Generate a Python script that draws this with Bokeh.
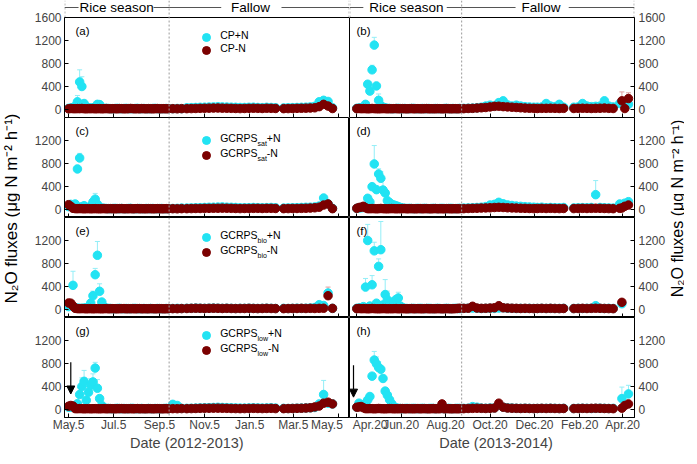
import math
import pandas as pd
from bokeh.plotting import figure
from bokeh.models import (Range1d, FixedTicker, Span, Label, Legend, LegendItem, LinearAxis,
                          ColumnDataSource, Whisker, TeeHead, Arrow, NormalHead)
from bokeh.layouts import row, column
from bokeh.embed import file_html
from bokeh.resources import INLINE

NaN = float("nan")

# ---------------- dates / ticks ----------------
start1, start2 = "2012-05-05", "2013-04-20"
rice_end1, rice_end2 = "2012-09-18", "2013-09-11"
tick_dates1 = ["2012-05-05", "2012-07-05", "2012-09-05", "2012-11-05", "2013-01-05", "2013-03-05", "2013-05-05"]
tick_labels1 = ["May.5", "Jul.5", "Sep.5", "Nov.5", "Jan.5", "Mar.5", "May.5"]
tick_dates2 = ["2013-04-20", "2013-06-20", "2013-08-20", "2013-10-20", "2013-12-20", "2014-02-20", "2014-04-20"]
tick_labels2 = ["Apr.20", "Jun.20", "Aug.20", "Oct.20", "Dec.20", "Feb.20", "Apr.20"]
y_ticks_top = [0, 400, 800, 1200, 1600]
y_ticks = [0, 400, 800, 1200]
fert_day1, fert_day2 = 3, -4.5

# sampling days (days after first tick date)
days1 = [0, 3, 6, 9, 12, 15, 18, 21, 24, 27, 30, 33, 36, 39, 42, 45, 48, 51, 54, 57, 60, 63, 66, 69, 72, 75,
         78, 81, 84, 87, 90, 93, 96, 99, 102, 105, 108, 111, 114, 117, 120, 123, 126, 129, 132, 135,
         141, 147, 153, 160, 166, 172, 178, 184, 190, 196, 202, 208, 214, 220, 226, 232,
         238, 244, 250, 256, 262, 268, 274, 280,
         291, 297, 303, 309, 315, 321, 327, 333, 339, 345, 351, 357]
days2 = [0, 3, 6, 9, 12, 15, 18, 21, 24, 27, 30, 33, 36, 39, 42, 45, 48, 51, 54, 57, 60, 63, 66, 69, 72, 75,
         78, 81, 84, 87, 90, 93, 96, 99, 102, 105, 108, 111, 114, 117, 120, 123, 126, 129, 132, 135, 138, 141,
         147, 153, 159, 165, 171, 177, 183, 189, 195, 201, 207, 213, 219, 225, 231, 237, 243,
         248, 254, 260, 266, 272, 278, 284,
         298, 304, 310, 316, 322, 328, 334, 340, 346, 352, 361, 364, 368, 373]

# ---------------- 2012-2013 ----------------
a_plus = [20, 25, 30, 60, 134, 480, 400, 104, 45, 30, 25, 30, 40, 90, 85, 30, 20, 20, 18, 15,
          15, 18, 20, 15, 15, 18, 20, 15, 15, 15, 18, 20, 15, 15, 18, 15, 15, 15, 18, 20,
          15, 15, 15, 15, 18, 15] + \
         [15, 18, 15, 30, 32, 35, 38, 40, 42, 45, 48, 45, 42, 40, 38, 35,
          35, 38, 40, 35, 32, 38, 35, 30, 28, 30, 32, 35, 38, 40, 45, 55, 134, 160, 140, 30]
a_minus = [12, 18, 15, 14, 16, 15, 18, 14, 12, 15, 14, 16, 12, 14, 15, 12, 14, 16, 13, 12,
           15, 14, 12, 16, 15, 12, 13, 14, 18, 15, 12, 14, 12, 16, 14, 12, 15, 13, 12, 14,
           16, 12, 13, 15, 12, 14] + \
          [14, 12, 15, 15, 16, 18, 20, 22, 24, 25, 26, 24, 22, 20, 18, 16,
           18, 20, 22, 20, 18, 22, 20, 18, 15, 16, 18, 20, 22, 24, 26, 30, 50, 90, 60, 17]
c_plus = [50, 90, 30, 96, 705, 896, 50, 66, 40, 30, 60, 130, 180, 90, 40, 25, 20, 18, 15, 15,
          18, 20, 15, 15, 18, 15, 15, 18, 20, 15, 15, 15, 18, 15, 15, 18, 15, 15, 18, 15,
          15, 15, 18, 15, 15, 15] + \
         [18, 20, 25, 25, 28, 30, 32, 35, 38, 40, 42, 45, 40, 38, 35, 30,
          30, 32, 35, 32, 30, 32, 35, 30, 25, 28, 30, 32, 35, 38, 40, 45, 60, 200, 100, 20]
c_minus = [84, 56, 20, 15, 14, 16, 15, 12, 14, 15, 12, 14, 15, 13, 12, 14, 16, 12, 14, 15,
           13, 12, 14, 15, 16, 12, 14, 13, 15, 12, 14, 16, 12, 14, 13, 12, 15, 14, 12, 13,
           15, 14, 12, 13, 15, 12] + \
          [14, 12, 15, 15, 16, 18, 18, 20, 20, 22, 22, 24, 22, 20, 18, 16,
           18, 18, 20, 20, 18, 20, 20, 18, 15, 16, 18, 18, 20, 22, 25, 30, 40, 78, 96, 15]
e_plus = [50, 80, 420, 30, 25, 20, 20, 25, 30, 35, 113, 240, 605, 943, 317, 130, 40, 25, 20, 18,
          15, 15, 18, 20, 15, 15, 18, 15, 15, 18, 20, 15, 15, 15, 18, 15, 15, 18, 15, 15,
          18, 15, 15, 15, 18, 15] + \
         [18, 20, 18, 20, 22, 25, 22, 20, 22, 25, 22, 20, 22, 20, 18, 20,
          20, 22, 20, 18, 20, 22, 20, 18, 20, 18, 20, 22, 20, 22, 25, 35, 84, 70, 287, 20]
e_minus = [113, 110, 60, 20, 15, 14, 16, 15, 12, 14, 15, 12, 14, 15, 13, 12, 14, 16, 12, 14,
           15, 13, 12, 14, 15, 16, 12, 14, 13, 15, 12, 14, 16, 12, 14, 13, 12, 15, 14, 12,
           13, 15, 14, 12, 13, 15] + \
          [15, 14, 16, 18, 20, 22, 20, 18, 20, 22, 20, 18, 20, 18, 16, 18,
           18, 20, 18, 16, 18, 20, 18, 16, 15, 16, 18, 18, 20, 18, 20, 18, 20, 22, 240, 20]
g_plus = [40, 40, 50, 60, 100, 260, 400, 490, 160, 300, 420, 480, 720, 370, 190, 70, 30, 20, 18, 15,
          15, 18, 20, 15, 15, 18, 15, 15, 18, 20, 15, 15, 15, 18, 15, 15, 18, 15, 15, 18,
          15, 15, 15, 18, 20, 15] + \
         [90, 70, 20, 20, 22, 25, 28, 30, 32, 35, 38, 35, 32, 30, 28, 25,
          25, 28, 30, 28, 25, 28, 30, 25, 20, 18, 20, 22, 25, 28, 30, 35, 97, 261, 110, 97]
g_minus = [57, 70, 60, 15, 14, 16, 15, 12, 14, 15, 12, 14, 15, 13, 12, 14, 16, 12, 14, 15,
           13, 12, 14, 15, 16, 12, 14, 13, 15, 12, 14, 16, 12, 14, 13, 12, 15, 14, 12, 13,
           15, 14, 12, 13, 15, 12] + \
          [15, 14, 16, 15, 16, 18, 20, 22, 22, 24, 24, 22, 20, 18, 16, 15,
           16, 18, 20, 18, 16, 18, 20, 16, 15, 16, 18, 20, 22, 25, 30, 45, 60, 110, 127, 97]

# ---------------- 2013-2014 ----------------
b_plus = [20, 25, 30, 40, 90, 440, 320, 690, 1120, 410, 160, 70, 40, 30, 20, 18, 15, 15, 18, 20,
          15, 15, 18, 15, 15, 18, 20, 15, 15, 15, 18, 15, 15, 18, 15, 15, 18, 15, 15, 15,
          18, 20, 15, 15, 18, 15, 15, 18] + \
         [20, 22, 25, 30, 40, 60, 75, 60, 120, 151, 80, 60, 75, 60, 50, 45, 40,
          40, 45, 104, 60, 50, 90, 40, 40, 45, 104, 60, 50, 55, 60, 151, 60, 45, 104, 120, 60, 92]
b_minus = [15, 18, 14, 16, 15, 12, 14, 18, 15, 13, 12, 14, 16, 15, 12, 14, 13, 15, 16, 12,
           14, 15, 13, 12, 14, 16, 12, 14, 15, 13, 12, 14, 16, 12, 14, 13, 12, 15, 14, 12,
           13, 15, 14, 12, 13, 15, 12, 14] + \
          [15, 18, 20, 25, 30, 35, 45, 55, 57, 50, 45, 40, 35, 30, 25, 22, 20,
           18, 20, 20, 22, 20, 18, 20, 18, 20, 22, 20, 18, 20, 22, 25, 20, 18, NaN, 151, 17, 191]
d_plus = [20, 25, 30, 35, 40, 195, 130, 397, 792, 345, 618, 543, 339, 287, 153, 120, 90, 78, 66, 50,
          35, 25, 20, 18, 20, 18, 15, 18, 20, 15, 18, 20, 18, 15, 18, 20, 18, 15, 18, 20,
          18, 15, 18, 20, 18, 15, 18, 20] + \
         [25, 28, 30, 35, 40, 50, 78, 90, 125, 100, 80, 70, 60, 55, 50, 45, 40,
          35, 40, 30, 35, 32, 30, 35, 28, 30, 32, 30, 35, 258, 35, 30, 28, 25, 96, 84, 110, 136]
d_minus = [20, 35, 40, 56, 30, 15, 14, 16, 15, 12, 14, 18, 15, 13, 12, 14, 16, 15, 12, 14,
           13, 15, 16, 12, 14, 15, 13, 12, 14, 16, 12, 14, 15, 13, 12, 14, 16, 12, 14, 13,
           12, 15, 14, 12, 13, 15, 12, 14] + \
          [15, 18, 20, 22, 25, 28, 30, 35, 38, 35, 30, 28, 25, 22, 20, 18, 16,
           18, 20, 18, 20, 18, 16, 18, 16, 18, 20, 18, 20, 22, 20, 18, 16, 15, 21, 26, 56, 78]
f_plus = [20, 25, 30, 50, 390, 1200, 60, 430, 1020, 110, 750, 1040, 80, 260, 170, 60, 90, 140, 175, 200,
          60, 30, 20, 18, 15, 18, 20, 15, 18, 20, 18, 15, 18, 20, 18, 15, 18, 20, 18, 15,
          18, 20, 18, 15, 18, 20, 18, 15] + \
         [20, 22, 25, 20, 18, 20, 22, 20, 25, 30, 22, 20, 18, 20, 18, 20, 18,
          18, 20, 18, 20, 18, 18, 20, 18, 20, 18, 20, 22, 66, 20, 18, 20, 18, NaN, 100, NaN, NaN]
f_minus = [15, 18, 14, 16, 15, 12, 14, 18, 15, 13, 12, 14, 16, 15, 12, 14, 13, 15, 16, 12,
           14, 15, 13, 12, 14, 16, 12, 14, 15, 13, 12, 14, 16, 12, 14, 13, 12, 15, 14, 12,
           13, 15, 14, 12, 13, 15, 18, 22] + \
          [20, 22, 56, 25, 20, 22, 25, 30, 66, 30, 25, 22, 20, 18, 20, 18, 16,
           18, 20, 18, 20, 18, 16, 18, 16, 18, 20, 18, 20, 22, 20, 18, 16, 15, NaN, 125, NaN, NaN]
h_plus = [40, 110, 60, 80, 110, 167, 226, 580, 860, 794, 730, 700, 540, 320, 250, 170, 100, 50, 30, 20,
          18, 15, 18, 20, 15, 18, 20, 18, 15, 18, 20, 18, 15, 18, 20, 18, 15, 18, 20, 18,
          15, 18, 20, 18, 15, 18, 20, 18] + \
         [20, 22, 50, 40, 25, 22, 25, 28, 80, 40, 30, 25, 22, 20, 22, 20, 18,
          18, 20, 20, 22, 20, 18, 20, 18, 20, 22, 20, 18, 20, 22, 20, 18, 20, NaN, 190, NaN, 271]
h_minus = [40, 45, 52, 30, 15, 14, 16, 15, 12, 14, 18, 15, 13, 12, 14, 16, 15, 12, 14, 13,
           15, 16, 12, 14, 15, 13, 12, 14, 16, 12, 14, 15, 13, 12, 14, 16, 12, 14, 13, 97,
           12, 15, 14, 12, 13, 15, 12, 14] + \
          [15, 18, 20, 22, 20, 18, 20, 25, 110, 40, 25, 22, 20, 18, 20, 18, 16,
           18, 20, 18, 20, 18, 16, 18, 16, 18, 20, 18, 20, 22, 20, 18, 16, 15, NaN, 23, 70, 97]

# standard errors (day -> SE) for points with visible error bars
a_plus_se = {12: 110, 15: 210, 18: 170, 39: 40, 345: 40}
c_plus_se = {12: 60, 15: 80, 36: 100, 345: 50}
e_plus_se = {6: 245, 33: 80, 36: 110, 39: 240, 42: 130}
e_minus_se = {351: 150}
g_plus_se = {15: 120, 18: 150, 21: 190, 27: 100, 30: 120, 33: 140, 36: 100, 39: 150, 345: 245}
b_plus_se = {21: 80, 24: 135, 30: 110}
b_minus_se = {364: 155, 373: 100}
d_plus_se = {24: 320, 30: 90, 33: 120, 36: 200, 328: 245}
f_plus_se = {12: 150, 15: 280, 21: 160, 24: 150, 30: 130, 33: 490, 39: 260, 42: 150, 57: 100}
h_plus_se = {24: 150, 27: 120, 30: 100, 364: 200, 373: 150}

# ---------------- styling ----------------
FONT = "Liberation Sans"
CYAN, CYAN_ERR = "#22e3f3", "#93eef7"
RED, RED_ERR = "#7b0000", "#e0a0a0"
Y0, Y1 = -139, 1600
FH = 100          # panel frame height
HDR = 17          # header band above top panels
FW = [285, 285]
XR = [(-5.5, 380.0), (-10.0, 381.3)]
NBSP = "\u00a0"
YTOP = Y1 + HDR * (Y1 - Y0) / FH


def dday(d, s):
    return (pd.Timestamp(d) - pd.Timestamp(s)).days


ticks1 = [dday(d, start1) for d in tick_dates1]
ticks2 = [dday(d, start2) for d in tick_dates2]
rice1 = dday(rice_end1, start1)
rice2 = dday(rice_end2, start2)


def above(px):
    return Y1 + px * (Y1 - Y0) / FH


def se_source(days, vals, se):
    xs = [d for d in days if d in se]
    lo = [vals[days.index(d)] for d in xs]
    up = [l + se[d] for l, d in zip(lo, xs)]
    return ColumnDataSource(dict(x=xs, lo=lo, up=up))


def add_text(p, x, y, s, size, xu="screen", yu="screen", **kw):
    p.add_layout(Label(x=x, y=y, x_units=xu, y_units=yu, text=s, text_font=FONT,
                       text_font_size=f"{size}px", text_color="black", **kw))


panels = [
    dict(key="a", col=0, row=0, plus=a_plus, minus=a_minus, pse=a_plus_se, mse={}, leg=("CP", ""), ly=(20, 33)),
    dict(key="c", col=0, row=1, plus=c_plus, minus=c_minus, pse=c_plus_se, mse={}, leg=("GCRPS", "sat"), ly=(23, 38)),
    dict(key="e", col=0, row=2, plus=e_plus, minus=e_minus, pse=e_plus_se, mse=e_minus_se, leg=("GCRPS", "bio"), ly=(20, 35)),
    dict(key="g", col=0, row=3, plus=g_plus, minus=g_minus, pse=g_plus_se, mse={}, leg=("GCRPS", "low"), ly=(18, 33)),
    dict(key="b", col=1, row=0, plus=b_plus, minus=b_minus, pse=b_plus_se, mse=b_minus_se, leg=None),
    dict(key="d", col=1, row=1, plus=d_plus, minus=d_minus, pse=d_plus_se, mse={}, leg=None),
    dict(key="f", col=1, row=2, plus=f_plus, minus=f_minus, pse=f_plus_se, mse={}, leg=None),
    dict(key="h", col=1, row=3, plus=h_plus, minus=h_minus, pse=h_plus_se, mse={}, leg=None),
]


def make_panel(sp):
    c, r = sp["col"], sp["row"]
    top, bottom = r == 0, r == 3
    days = days1 if c == 0 else days2
    ticks = ticks1 if c == 0 else ticks2
    p = figure(frame_width=FW[c], frame_height=FH + (HDR if top else 0),
               x_range=Range1d(*XR[c]), y_range=Range1d(Y0, YTOP if top else Y1),
               y_axis_location="left" if c == 0 else "right",
               min_border_left=44 if c == 0 else 0,
               min_border_right=0 if c == 0 else 31,
               min_border_top=0,
               min_border_bottom=31 if bottom else 0,
               output_backend="svg", toolbar_location=None)
    p.outline_line_color = None if top else "black"
    p.outline_line_width = 1
    p.xgrid.visible = False
    p.ygrid.visible = False

    # x axis
    xa = p.xaxis[0]
    xa.ticker = FixedTicker(ticks=ticks)
    xa.major_tick_in, xa.major_tick_out = 4, 0
    xa.minor_tick_line_color = None
    xa.axis_line_color = "black"
    xa.major_label_text_font = FONT
    if bottom:
        labs = list(tick_labels1 if c == 0 else tick_labels2)
        if c == 0:
            labs[-1] = labs[-1] + NBSP * 2
            xa.axis_label = "Date (2012-2013)" + NBSP * 10
        else:
            labs[0] = NBSP + labs[0]
            xa.axis_label = NBSP * 2 + "Date (2013-2014)"
        xa.major_label_overrides = {t: l for t, l in zip(ticks, labs)}
        xa.major_label_text_font_size = "12px"
        xa.major_label_standoff = 0
        xa.axis_label_standoff = 0
        xa.axis_label_text_font = FONT
        xa.axis_label_text_font_size = "14.5px"
        xa.axis_label_text_font_style = "normal"
    else:
        xa.major_label_overrides = {t: "" for t in ticks}
        xa.major_label_text_font_size = "0px"
        xa.major_label_standoff = 0

    # y axis
    ya = p.yaxis[0]
    ya.ticker = FixedTicker(ticks=y_ticks_top if top else y_ticks)
    ya.major_tick_in, ya.major_tick_out = 4, 0
    ya.minor_tick_line_color = None
    ya.major_label_text_font = FONT
    ya.major_label_text_font_size = "12px"
    ya.major_label_standoff = 3 if c == 0 else 4
    ya.axis_line_color = "black"

    if top:
        # panel frame edges drawn by axes bounded to the data part; header band above stays open
        ya.bounds = (Y0, Y1)
        edge = LinearAxis(bounds=(Y0, Y1), ticker=FixedTicker(ticks=[]),
                          major_tick_line_color=None, minor_tick_line_color=None,
                          major_label_text_font_size="0px", major_label_standoff=0,
                          axis_line_color="black")
        p.add_layout(edge, "right" if c == 0 else "left")
        p.add_layout(Span(location=Y1, dimension="width", line_color="black", line_width=1))

    # season boundary
    p.add_layout(Span(location=rice1 if c == 0 else rice2, dimension="height",
                      line_color="#9a9a9a", line_dash="2 2", line_width=1))

    src = ColumnDataSource(dict(x=days, plus=sp["plus"], minus=sp["minus"]))
    for se, key, ec in ((sp["pse"], "plus", CYAN_ERR), (sp["mse"], "minus", RED_ERR)):
        if se:
            w = Whisker(source=se_source(days, sp[key], se), base="x", lower="lo", upper="up",
                        dimension="height", line_color=ec, line_width=1, level="underlay",
                        upper_head=TeeHead(size=5, line_color=ec, line_width=1), lower_head=None)
            p.add_layout(w)
    rp = p.scatter("x", "plus", source=src, size=8.5, color=CYAN, marker="circle")
    rm = p.scatter("x", "minus", source=src, size=8.5, color=RED, marker="circle")

    # panel letter
    add_text(p, 11 if c == 0 else 7, FH - 13, f"({sp['key']})", 11.5, text_baseline="middle")

    # legend
    if sp["leg"]:
        base, sub = sp["leg"]
        mx, tx = 141.5, 155.7
        g = 20
        for rend, yt, suffix in ((rp, sp["ly"][0], "+N"), (rm, sp["ly"][1], "-N")):
            leg = Legend(items=[LegendItem(label=" ", renderers=[rend])],
                         location=(mx - g / 2, FH - yt - g / 2), glyph_width=g, glyph_height=g,
                         padding=0, margin=0, spacing=0, label_standoff=0, label_width=1, label_height=1,
                         border_line_color=None, background_fill_alpha=0, label_text_font_size="1px")
            p.add_layout(leg)
            by = FH - yt - 3.8
            if sub:
                add_text(p, tx, by, base, 10.5)
                add_text(p, tx + 37.3, by - 2.5, sub, 7)
                sw = 10.5 if sub == "low" else 9.3
                add_text(p, tx + 37.3 + sw, by, suffix, 10.5)
            else:
                add_text(p, tx, by, base + suffix, 10.5)

    # fertilisation arrow
    if bottom:
        fx = fert_day1 if c == 0 else fert_day2
        p.add_layout(Arrow(x_start=fx, y_start=820 if c == 0 else 770, x_end=fx, y_end=270 if c == 0 else 215,
                           line_color="black", line_width=1.2,
                           end=NormalHead(size=8, fill_color="black", line_color="black")))

    # header band (inside the extended frame of the top panels)
    if top:
        hy = above(10)
        if c == 0:
            vlines = [XR[0][0] + 0.5, XR[0][1] - 0.5]
            hsegs = [(XR[0][0], 13.5), (115, rice1), (rice1, 206.5), (288, XR[0][1])]
            texts = [(65, "Rice season"), (246, "Fallow")]
        else:
            vlines = [XR[1][0] + 0.5, XR[1][1] - 0.5]
            hsegs = [(XR[1][0], 9), (123.5, rice2), (rice2, 218), (291, XR[1][1])]
            texts = [(68, "Rice season"), (253, "Fallow")]
        p.segment(x0=vlines, y0=[Y1] * len(vlines), x1=vlines, y1=[YTOP] * len(vlines),
                  line_color="#9a9a9a", line_dash="2 2", line_width=1)
        p.segment(x0=[s[0] for s in hsegs], y0=[hy] * len(hsegs), x1=[s[1] for s in hsegs],
                  y1=[hy] * len(hsegs), line_color="#555555", line_width=1)
        for tx_, s in texts:
            add_text(p, tx_, hy, s, 13.5, xu="data", yu="data", text_align="center", text_baseline="middle")
    return p


figs = {sp["key"]: make_panel(sp) for sp in panels}

TITLE = "N\u2082O fluxes (\u03bcg N m\u207b\u00b2 h\u207b\u00b9)"


def title_fig(w, xc, size):
    t = figure(frame_width=w, frame_height=448, x_range=Range1d(0, w), y_range=Range1d(0, 448),
               min_border_left=0, min_border_right=0, min_border_top=0, min_border_bottom=0,
               x_axis_location=None, y_axis_location=None, outline_line_color=None,
               output_backend="svg", toolbar_location=None)
    t.xgrid.visible = False
    t.ygrid.visible = False
    t.add_layout(Label(x=xc, y=240, text=TITLE, angle=math.pi / 2, text_align="center",
                       text_baseline="middle", text_font=FONT, text_font_size=f"{size}px",
                       text_color="black"))
    return t


lt = title_fig(20, 11, 17)
rt = title_fig(16, 8.5, 16)

layout = row(lt,
             column(figs["a"], figs["c"], figs["e"], figs["g"]),
             column(figs["b"], figs["d"], figs["f"], figs["h"]),
             rt)

open("out.html", "w").write(file_html(layout, INLINE))
